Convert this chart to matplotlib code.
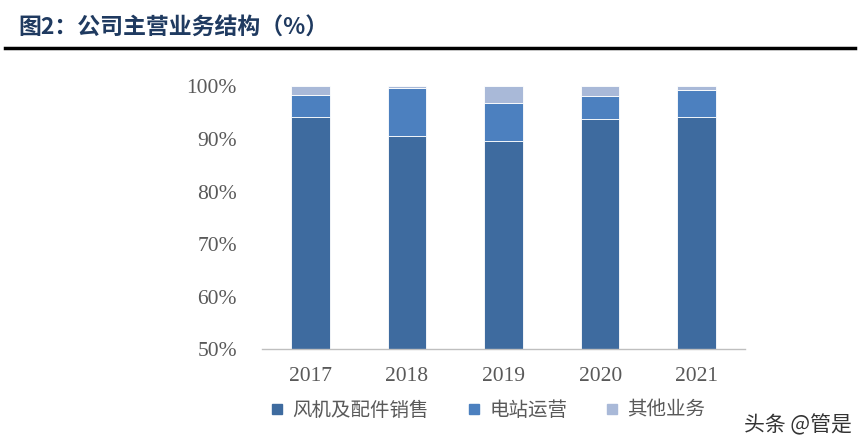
import numpy as np
import matplotlib.pyplot as plt
from matplotlib.lines import Line2D

plt.rcParams['font.family'] = ['Liberation Serif', 'Noto Sans CJK SC']

# data (%)
years = ['2017', '2018', '2019', '2020', '2021']
wind = [94.1, 90.5, 89.6, 93.9, 94.2]
station = [4.2, 9.2, 7.2, 4.3, 5.2]
other = [1.7, 0.3, 3.2, 1.8, 0.6]
labels = ['风机及配件销售', '电站运营', '其他业务']
colors = ['#3E6B9F', '#4C80BF', '#A9B9D8']

fig = plt.figure(figsize=(8.6, 4.47), dpi=100)
ax = fig.add_axes([0.3047, 0.2192, 0.5616, 0.5873])

x = np.arange(len(years))
w = 0.4
bottom = np.zeros(len(years))
for vals, c in zip([wind, station, other], colors):
    ax.bar(x, vals, w, bottom=bottom, color=c, edgecolor='white', linewidth=0.6)
    bottom = bottom + np.array(vals)

ax.set_ylim(50, 100)
ax.set_xlim(-0.5, 4.5)
ax.set_yticks(np.arange(50, 101, 10))
ax.set_yticklabels([f'{v}%' for v in range(50, 101, 10)])
ax.set_xticks(x)
ax.set_xticklabels(years)
ax.tick_params(axis='both', length=0, labelsize=15.5, colors='#595959')
ax.tick_params(axis='y', pad=18)
ax.tick_params(axis='x', pad=13)
for s in ['top', 'right', 'left']:
    ax.spines[s].set_visible(False)
ax.spines['bottom'].set_color('#BFBFBF')
ax.spines['bottom'].set_linewidth(1)

handles = [Line2D([0], [0], marker='s', linestyle='', markersize=7,
                  markerfacecolor=c, markeredgecolor=c) for c in colors]
fig.legend(handles, labels, loc='center', bbox_to_anchor=(0.56, 0.082), ncol=3,
           frameon=False, handletextpad=-0.2, columnspacing=1.3,
           labelcolor='#595959', prop={'family': ['Noto Sans CJK SC'], 'size': 14})

# title and rule
fig.text(0.021, 0.937, '图2：公司主营业务结构（%）', fontsize=16.5, fontweight='bold',
         color='#1F3A60', family=['Noto Sans CJK SC'], va='center')
fig.add_artist(Line2D([0.006, 0.994], [0.892, 0.892], color='black', linewidth=2.5))

fig.text(0.99, 0.048, '头条 @管是', fontsize=15, color='#333333',
         family=['Noto Sans CJK SC'], ha='right', va='center')

fig.savefig('out.png', dpi=100)
